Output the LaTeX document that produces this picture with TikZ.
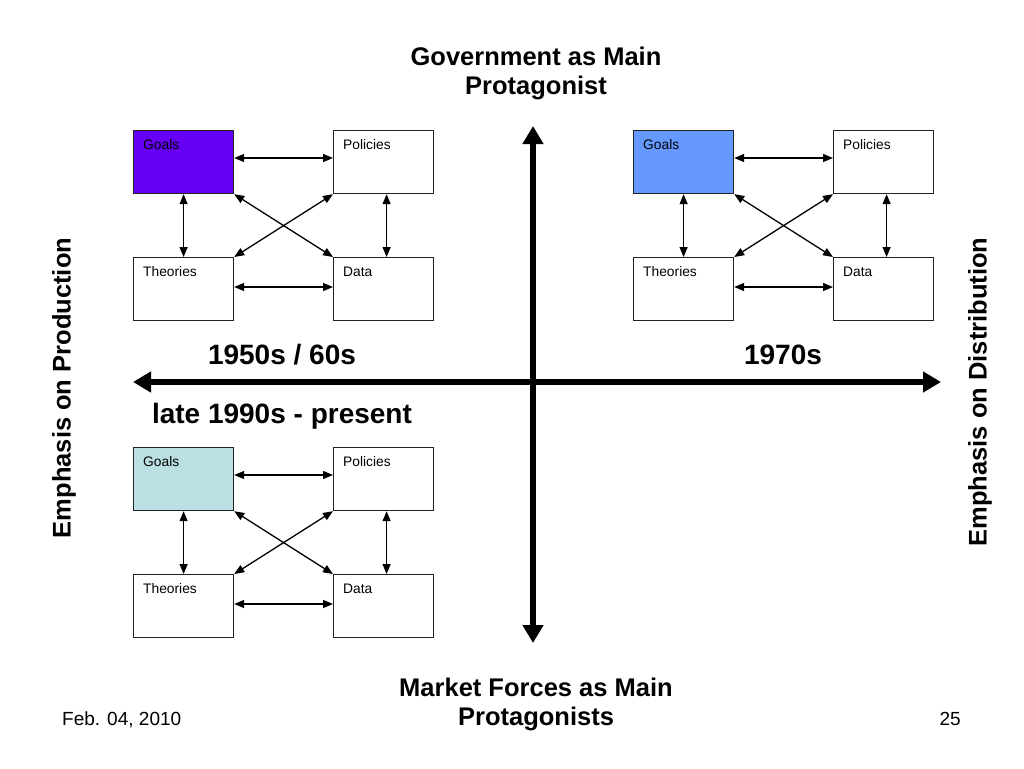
\documentclass[tikz,border=0pt]{standalone}
\usepackage{fontspec}
\setmainfont{Liberation Sans}
\usetikzlibrary{arrows.meta}
\definecolor{goalA}{HTML}{6600F5}
\definecolor{goalB}{HTML}{6699FF}
\definecolor{goalC}{HTML}{BBE0E3}
\definecolor{edgegray}{HTML}{222222}
\tikzset{
  boxnode/.style={draw=edgegray, line width=1.2pt, fill=white, minimum width=100pt, minimum height=63pt, anchor=north west, inner sep=0pt},
  boxlabel/.style={font=\fontsize{13.8}{15}\selectfont, anchor=base west, inner sep=0pt, xshift=10pt, yshift=-19pt},
  link/.style={line width=1.3pt, {Triangle[length=10pt,width=8pt]}-{Triangle[length=10pt,width=8pt]}},
  axis/.style={line width=6pt, -{Triangle[length=18pt,width=20pt]}},
  big/.style={font=\bfseries\fontsize{25.5}{29}\selectfont, align=center, inner sep=0pt},
  era/.style={font=\bfseries\fontsize{28}{32}\selectfont, align=center, inner sep=0pt},
}
\newcommand{\cluster}[4]{%
  \node[boxnode, fill=#4] (#1g) at (#2,#3) {};
  \node[boxlabel] (#1gl) at (#1g.north west) {Goals};
  \node[boxnode] (#1p) at (#2+200,#3) {};
  \node[boxlabel] (#1pl) at (#1p.north west) {Policies};
  \node[boxnode] (#1t) at (#2,#3+127) {};
  \node[boxlabel] (#1tl) at (#1t.north west) {Theories};
  \node[boxnode] (#1d) at (#2+200,#3+127) {};
  \node[boxlabel] (#1dl) at (#1d.north west) {Data};
  \draw[link] ([yshift=-28pt]#1g.north east) -- ([yshift=-28pt]#1p.north west);
  \draw[link] ([yshift=-30pt]#1t.north east) -- ([yshift=-30pt]#1d.north west);
  \draw[link] (#1g.south) -- (#1t.north);
  \draw[link] ([xshift=3pt]#1p.south) -- ([xshift=3pt]#1d.north);
  \draw[link] (#1g.south east) -- (#1d.north west);
  \draw[link] (#1p.south west) -- (#1t.north east);
}
\begin{document}
\begin{tikzpicture}[x=1pt,y=-1pt]
\useasboundingbox (0,0) rectangle (1024,768);
\fill[white] (0,0) rectangle (1024,768);

\cluster{a}{133}{130}{goalA}
\cluster{b}{633}{130}{goalB}
\cluster{c}{133}{447}{goalC}

\coordinate (center) at (533,382);
\coordinate (top) at (533,126);
\coordinate (bottom) at (533,643);
\coordinate (left) at (133,382);
\coordinate (right) at (941,382);
\draw[axis] (center) -- (top);
\draw[axis] (center) -- (bottom);
\draw[axis] (center) -- (left);
\draw[axis] (center) -- (right);

\node[big] (gov) at (536,73) {Government as Main\\Protagonist};
\node[big] (mkt) at (536,704) {Market Forces as Main\\Protagonists};
\node[big, rotate=90] (prod) at (64,388) {Emphasis on Production};
\node[big, rotate=90] (dist) at (980,392) {Emphasis on Distribution};
\node[era] (e50) at (282,355) {1950s / 60s};
\node[era] (e70) at (783,355) {1970s};
\node[era] (e90) at (282,416) {late 1990s - present};

\node[font=\fontsize{19}{22}\selectfont, anchor=base west, inner sep=0pt] (date) at (62,725) {Feb. 04, 2010};
\node[font=\fontsize{19}{22}\selectfont, anchor=base east, inner sep=0pt] (page) at (961,725) {25};
\end{tikzpicture}
\end{document}
